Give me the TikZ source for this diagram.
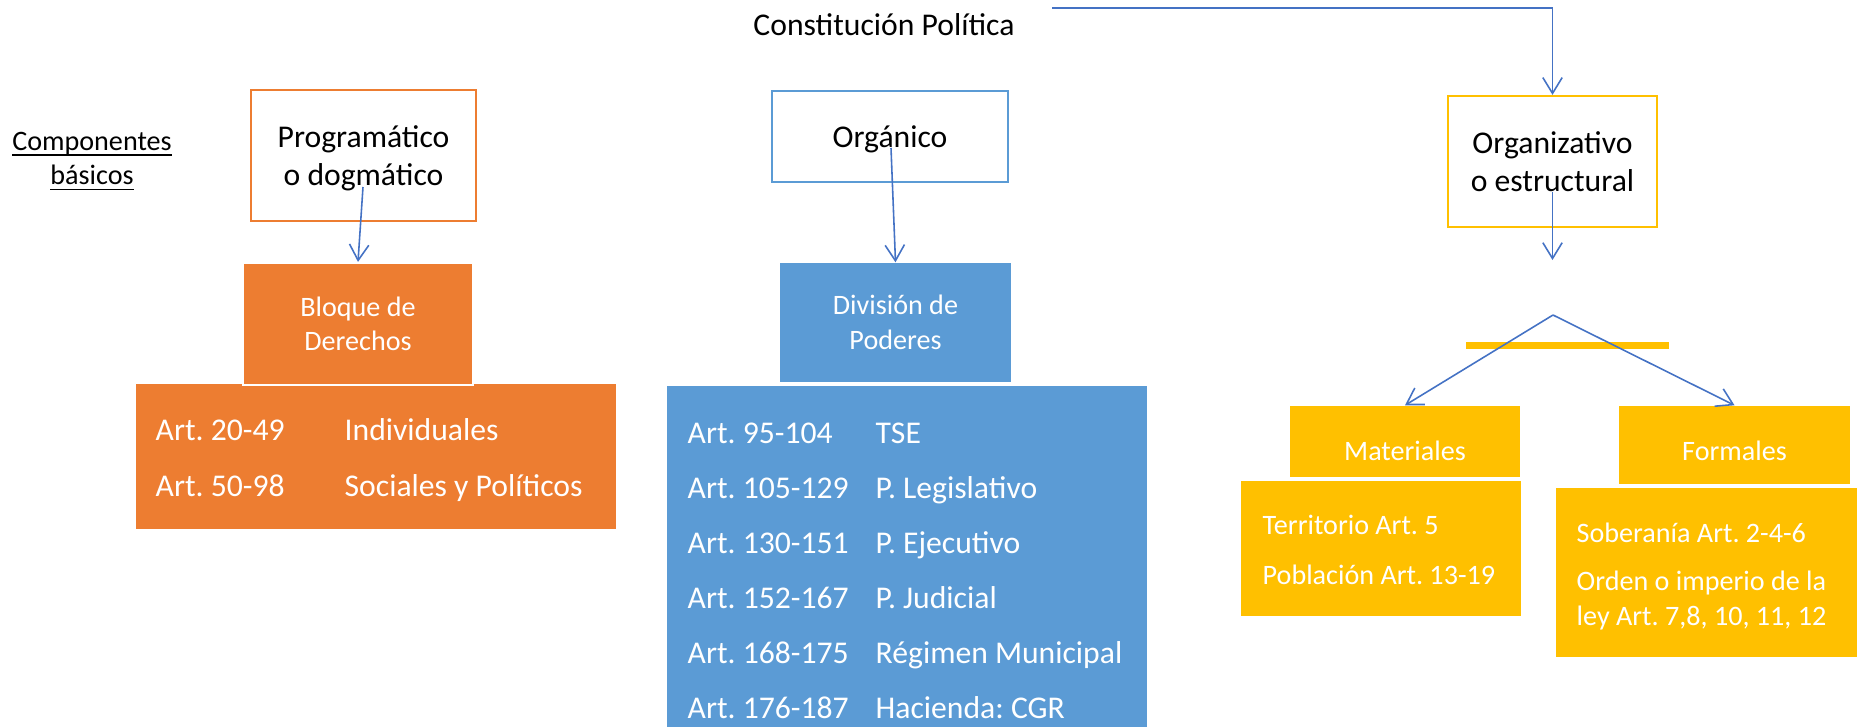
\documentclass[tikz,border=0pt]{standalone}
\usepackage{fontspec}
\setmainfont{Carlito}
\usetikzlibrary{arrows.meta}
\frenchspacing

\definecolor{naranja}{HTML}{ED7D31}
\definecolor{azul}{HTML}{5B9BD5}
\definecolor{amarillo}{HTML}{FFC000}
\definecolor{flecha}{HTML}{4472C4}

\newcommand\grande{\fontsize{9}{10.8}\selectfont}
\newcommand\chico{\fontsize{8}{9.8}\selectfont}

\begin{document}
\begin{tikzpicture}[x=0.01cm,y=-0.01cm,>={Straight Barb[length=4.5pt,width=5.5pt]},
    borde/.style={draw=#1,line width=0.6pt,fill=white,align=center,font=\grande,inner sep=0pt},
    lleno/.style={fill=#1,align=center,text=white,font=\chico,inner sep=0pt},
    fila/.style={anchor=base west,text=white,inner sep=0pt,font=\grande},
    filab/.style={fila,font=\chico},
    conector/.style={->,draw=flecha,line width=0.45pt}]
\useasboundingbox (0,0) rectangle (1857,727);

% titulo y componentes
\node[font=\grande,anchor=base,inner sep=0pt] (titulo) at (884,35) {Constitución Política};
\node[font=\chico,align=center,inner sep=0pt] (comp) at (92,171) {\underline{\smash{Componentes}}\\\underline{\smash{básicos}}};

% cajas superiores
\node[borde=naranja,minimum width=2.25cm,minimum height=1.31cm,text depth=-1pt] (prog) at (363.5,155.5) {Programático\\o dogmático};
\node[borde=azul,minimum width=2.36cm,minimum height=0.91cm,text depth=-1pt] (org) at (890,136.5) {Orgánico};
\node[borde=amarillo,minimum width=2.09cm,minimum height=1.31cm] (estr) at (1552.5,161.5) {Organizativo\\o estructural};

% bloque de derechos
\node[lleno=naranja,minimum width=4.80cm,minimum height=1.45cm] (derBox) at (376,456.5) {};
\node[lleno=naranja,draw=white,line width=0.6pt,minimum width=2.30cm,minimum height=1.22cm] (derechos) at (358,324) {Bloque de\\Derechos};
\node[fila] (der1a) at (155,440) {Art. 20-49};
\node[fila] (der1b) at (344,440) {Individuales};
\node[fila] (der2a) at (155,496) {Art. 50-98};
\node[fila] (der2b) at (344,496) {Sociales y Políticos};

% division de poderes
\node[lleno=azul,minimum width=4.80cm,minimum height=3.41cm] (podBox) at (907,556.5) {};
\node[lleno=azul,minimum width=2.31cm,minimum height=1.19cm] (poderes) at (895.5,322.5) {División de\\Poderes};
\foreach \y/\art/\pod in {443/95-104/TSE,498/105-129/P. Legislativo,553/130-151/P. Ejecutivo,
    608/152-167/P. Judicial,663/168-175/Régimen Municipal,718/176-187/Hacienda: CGR}{
  \node[fila] (pod\y a) at (687,\y) {Art. \art};
  \node[fila] (pod\y b) at (875,\y) {\pod};
}

% organizativo
\fill[amarillo] (1466,342) rectangle (1669,349);
\node[lleno=amarillo,minimum width=2.30cm,minimum height=0.71cm,text height=10.8pt,text depth=0pt] (mat) at (1405,441.5) {Materiales};
\node[lleno=amarillo,minimum width=2.80cm,minimum height=1.35cm] (matBox) at (1381,548.5) {};
\node[filab] (mat1) at (1262,534) {Territorio Art. 5};
\node[filab] (mat2) at (1262,584) {Población Art. 13-19};
\node[lleno=amarillo,minimum width=2.31cm,minimum height=0.78cm,text height=8.8pt,text depth=0pt] (form) at (1734.5,445) {Formales};
\node[lleno=amarillo,minimum width=3.01cm,minimum height=1.69cm] (formBox) at (1706.5,572.5) {};
\node[filab] (form1) at (1576,542) {Soberanía Art. 2-4-6};
\node[filab] (form2) at (1576,590) {Orden o imperio de la};
\node[filab] (form3) at (1576,625) {ley Art. 7,8, 10, 11, 12};

% conectores
\coordinate (inicio) at (1052,8);
\draw[conector] (inicio) -| (estr.north);
\coordinate (progIn) at (363,187);
\draw[conector] (progIn) -- (derechos.north);
\coordinate (orgIn) at (891,148);
\draw[conector] (orgIn) -- (poderes.north);
\coordinate (estrIn) at (1552.5,192);
\coordinate (estrOut) at (1552.5,260);
\draw[conector] (estrIn) -- (estrOut);
\coordinate (vertice) at (1553,315);
\draw[conector] (vertice) -- (mat.north);
\draw[conector] (vertice) -- (form.north);
\end{tikzpicture}
\end{document}
